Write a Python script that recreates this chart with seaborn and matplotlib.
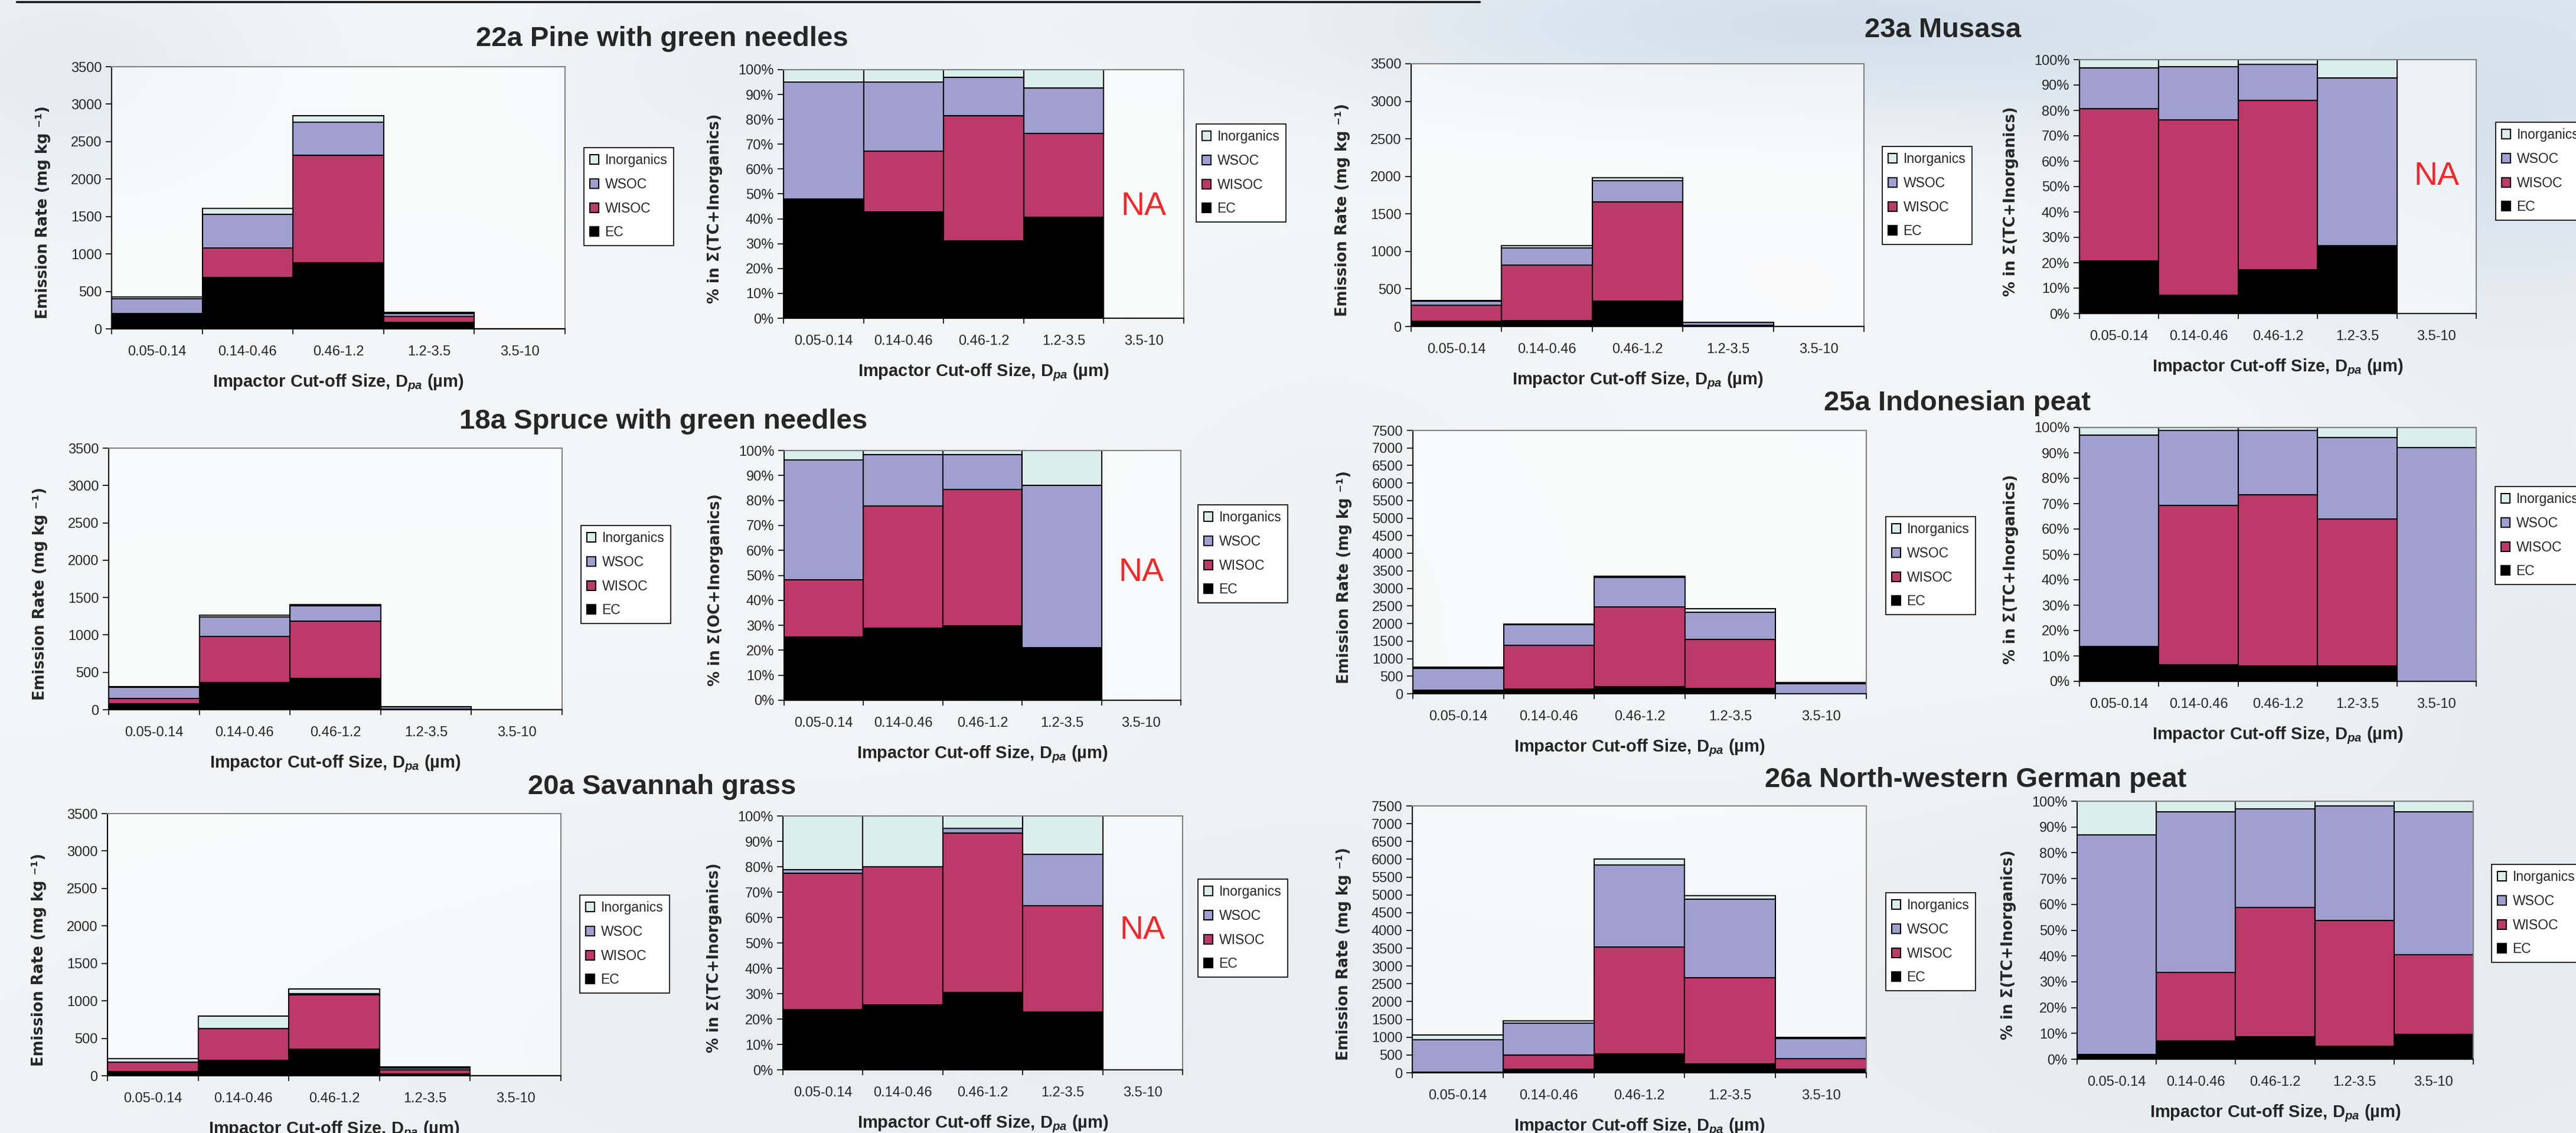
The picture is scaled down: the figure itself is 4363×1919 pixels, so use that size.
import numpy as np
import pandas as pd
import matplotlib
matplotlib.use("Agg")
import matplotlib.pyplot as plt
from matplotlib.patches import Patch
from matplotlib.lines import Line2D
from matplotlib.ticker import PercentFormatter
from matplotlib.transforms import blended_transform_factory
import seaborn as sns

sns.set_theme(style="ticks")
plt.rcParams["font.family"] = ["Liberation Sans", "DejaVu Sans"]
plt.rcParams["mathtext.fontset"] = "custom"
plt.rcParams["mathtext.rm"] = "Liberation Sans:bold"
plt.rcParams["mathtext.it"] = "Liberation Sans:italic:bold"
plt.rcParams["mathtext.bf"] = "Liberation Sans:bold"

W, H, DPI = 4363, 1919, 100

# ---------------------------------------------------------------- data
size_bins = ["0.05-0.14", "0.14-0.46", "0.46-1.2", "1.2-3.5", "3.5-10"]
components = ["Inorganics", "WSOC", "WISOC", "EC"]
colors = {"Inorganics": "#DCEEEC", "WSOC": "#A0A0D0",
          "WISOC": "#BB3A6A", "EC": "#000000"}

# emission rates, mg kg-1, per impactor size bin
ec_22a = [204, 686, 885, 89, 0]
wisoc_22a = [0, 394, 1432, 74, 0]
wsoc_22a = [200, 448, 441, 40, 0]
inorg_22a = [21, 79, 89, 16, 0]

ec_23a = [72, 78, 339, 15, 0]
wisoc_23a = [208, 742, 1323, 0, 0]
wsoc_23a = [56, 226, 283, 37, 0]
inorg_23a = [11, 29, 36, 4, 0]

ec_18a = [78, 364, 420, 9, 0]
wisoc_18a = [71, 618, 768, 0, 0]
wsoc_18a = [148, 261, 199, 28, 0]
inorg_18a = [12, 20, 22, 6, 0]

ec_25a = [103, 131, 204, 147, 0]
wisoc_25a = [0, 1246, 2261, 1398, 0]
wsoc_25a = [626, 589, 844, 776, 294]
inorg_25a = [22, 24, 40, 94, 25]

ec_20a = [55, 202, 351, 27, 0]
wisoc_20a = [124, 432, 728, 50, 0]
wsoc_20a = [3, 0, 20, 24, 0]
inorg_20a = [49, 159, 57, 18, 0]

ec_26a = [19, 104, 529, 249, 97]
wisoc_26a = [0, 388, 3001, 2427, 309]
wsoc_26a = [910, 908, 2304, 2203, 552]
inorg_26a = [139, 60, 180, 94, 42]

# ---------------------------------------------------------------- layout (pixels)
panels = [
    dict(title="22a Pine with green needles", title_xy=(1121, 78),
         series=(ec_22a, wisoc_22a, wsoc_22a, inorg_22a), ymax=3500,
         pct_label="% in Σ(TC+Inorganics)",
         abs_box=(189, 957, 113, 557), pct_box=(1327, 2005, 118, 539),
         abs_leg=(989, 250), pct_leg=(2026, 210), na_y=0.45),
    dict(title="23a Musasa", title_xy=(3291, 63),
         series=(ec_23a, wisoc_23a, wsoc_23a, inorg_23a), ymax=3500,
         pct_label="% in Σ(TC+Inorganics)",
         abs_box=(2390, 3157, 108, 553), pct_box=(3522, 4194, 101, 531),
         abs_leg=(3188, 248), pct_leg=(4227, 207), na_y=0.54),
    dict(title="18a Spruce with green needles", title_xy=(1124, 726),
         series=(ec_18a, wisoc_18a, wsoc_18a, inorg_18a), ymax=3500,
         pct_label="% in Σ(OC+Inorganics)",
         abs_box=(184, 952, 759, 1202), pct_box=(1328, 2000, 763, 1186),
         abs_leg=(984, 890), pct_leg=(2029, 855), na_y=0.51),
    dict(title="25a Indonesian peat", title_xy=(3315, 695),
         series=(ec_25a, wisoc_25a, wsoc_25a, inorg_25a), ymax=7500,
         pct_label="% in Σ(TC+Inorganics)",
         abs_box=(2393, 3161, 729, 1175), pct_box=(3522, 4194, 724, 1154),
         abs_leg=(3194, 875), pct_leg=(4226, 824), na_y=None),
    dict(title="20a Savannah grass", title_xy=(1121, 1345),
         series=(ec_20a, wisoc_20a, wsoc_20a, inorg_20a), ymax=3500,
         pct_label="% in Σ(TC+Inorganics)",
         abs_box=(182, 950, 1378, 1822), pct_box=(1326, 2003, 1382, 1812),
         abs_leg=(982, 1516), pct_leg=(2029, 1489), na_y=0.55),
    dict(title="26a North-western German peat", title_xy=(3346, 1333),
         series=(ec_26a, wisoc_26a, wsoc_26a, inorg_26a), ymax=7500,
         pct_label="% in Σ(TC+Inorganics)",
         abs_box=(2392, 3161, 1365, 1817), pct_box=(3518, 4189, 1357, 1794),
         abs_leg=(3194, 1512), pct_leg=(4220, 1464), na_y=None),
]

fig = plt.figure(figsize=(W / DPI, H / DPI), dpi=DPI)


# ---------------------------------------------------------------- cloudy backdrop
def sky(h, w):
    yy, xx = np.mgrid[0:h, 0:w]
    X = xx * (W / w)
    Y = yy * (H / h)
    img = np.ones((h, w, 3)) * np.array([0.958, 0.965, 0.970])
    shade = (Y / H) ** 2 * 0.10
    img = img * (1 - shade[..., None]) + np.array([0.86, 0.89, 0.91]) * shade[..., None]
    blobs = [
        (3150, 40, 650, 110, (0.80, 0.86, 0.91), 0.85),
        (4250, 200, 350, 260, (0.80, 0.86, 0.91), 0.75),
        (3900, 80, 400, 120, (0.84, 0.89, 0.93), 0.6),
        (120, 120, 260, 160, (0.86, 0.90, 0.93), 0.6),
        (1250, 120, 260, 160, (0.88, 0.91, 0.94), 0.45),
        (3900, 1700, 700, 300, (0.86, 0.89, 0.91), 0.55),
        (1700, 1750, 900, 260, (0.88, 0.90, 0.92), 0.45),
        (2250, 1000, 300, 350, (0.90, 0.92, 0.93), 0.35),
        (4300, 1100, 250, 300, (0.86, 0.89, 0.92), 0.45),
    ]
    for cx, cy, sx, sy, col, s in blobs:
        wgt = s * np.exp(-0.5 * (((X - cx) / sx) ** 2 + ((Y - cy) / sy) ** 2))
        img = img * (1 - wgt[..., None]) + np.array(col) * wgt[..., None]
    return np.clip(img, 0, 1)


bg = fig.add_axes([0, 0, 1, 1], zorder=-10)
bg.imshow(sky(480, 1090), extent=[0, W, H, 0], aspect="auto", interpolation="bilinear")
bg.set_xlim(0, W)
bg.set_ylim(H, 0)
bg.axis("off")

fig.add_artist(Line2D([28 / W, 2506 / W], [1 - 3 / H, 1 - 3 / H], color="#111111", lw=2.5))


def add_axes_px(box):
    l, r, t, b = box
    ax = fig.add_axes([l / W, 1 - b / H, (r - l) / W, (b - t) / H])
    return ax, (r - l), (b - t)


def long_frame(series):
    ec, wisoc, wsoc, inorg = series
    by_comp = {"Inorganics": inorg, "WSOC": wsoc, "WISOC": wisoc, "EC": ec}
    rows = [(i, comp, v) for comp in components for i, v in enumerate(by_comp[comp])]
    return pd.DataFrame(rows, columns=["bin", "component", "rate"])


def style(ax, wpx, hpx, ylabel, yfamily):
    ax.set_facecolor((1, 1, 1, 0.55))
    ax.set_xlim(-0.5, 4.5)
    ax.set_xticks(np.arange(-0.5, 5.0, 1.0))
    ax.set_xticklabels([])
    ax.set_xticks(range(5), minor=True)
    ax.set_xticklabels(size_bins, minor=True)
    ax.tick_params(axis="x", which="major", length=6.5, width=1.2, direction="out",
                   bottom=True, color="black")
    ax.tick_params(axis="x", which="minor", length=0, pad=20, labelsize=17, bottom=True)
    ax.tick_params(axis="y", which="major", length=7, width=1.2, direction="out",
                   left=True, pad=5, labelsize=17, color="black")
    for s in ("left", "bottom"):
        ax.spines[s].set_color("black")
        ax.spines[s].set_linewidth(1.5)
    for s in ("top", "right"):
        ax.spines[s].set_visible(True)
        ax.spines[s].set_color("#808080")
        ax.spines[s].set_linewidth(1.5)
    ax.set_xlabel("Impactor Cut-off Size, D$_{pa}$ (µm)", fontsize=21, fontweight="bold")
    ax.xaxis.label.set_va("center")
    ax.xaxis.set_label_coords(0.5, -92 / hpx)
    ax.set_ylabel(ylabel, fontsize=18.5, fontweight="bold", family=yfamily)
    ax.yaxis.label.set_va("center")
    ax.yaxis.set_label_coords(-116 / wpx, 0.5 - 25 / hpx)


def add_legend(ax, xy):
    handles = [Patch(facecolor=colors[c], edgecolor="black", linewidth=1.5, label=c)
               for c in components]
    leg = ax.legend(handles=handles, loc="upper left",
                    bbox_to_anchor=(xy[0] / W, 1 - xy[1] / H),
                    bbox_transform=fig.transFigure, frameon=True, fancybox=False,
                    framealpha=1, edgecolor="black", facecolor="white",
                    fontsize=16.5, borderpad=0.45, labelspacing=0.77,
                    handlelength=0.65, handleheight=0.7, handletextpad=0.45,
                    borderaxespad=0)
    leg.get_frame().set_linewidth(1.2)


for p in panels:
    df = long_frame(p["series"])

    # absolute emission rates
    ax, wpx, hpx = add_axes_px(p["abs_box"])
    sns.histplot(data=df, x="bin", weights="rate", hue="component", hue_order=components,
                 multiple="stack", discrete=True, shrink=1, palette=colors,
                 edgecolor="black", linewidth=1.5, alpha=1, legend=False, ax=ax)
    ax.set_ylim(0, p["ymax"])
    ax.set_yticks(np.arange(0, p["ymax"] + 1, 500))
    style(ax, wpx, hpx, "Emission Rate (mg kg ⁻¹)", ["DejaVu Sans"])
    add_legend(ax, p["abs_leg"])

    # mass fractions of the summed components
    totals = df.groupby("bin")["rate"].sum()
    valid = totals[totals > 0].index
    ax2, wpx2, hpx2 = add_axes_px(p["pct_box"])
    sns.histplot(data=df[df["bin"].isin(valid)], x="bin", weights="rate", hue="component",
                 hue_order=components, multiple="fill", discrete=True, shrink=1,
                 palette=colors, edgecolor="black", linewidth=1.5, alpha=1,
                 legend=False, ax=ax2)
    ax2.set_ylim(0, 1)
    ax2.set_yticks(np.arange(0, 1.01, 0.1))
    ax2.yaxis.set_major_formatter(PercentFormatter(1.0, decimals=0))
    style(ax2, wpx2, hpx2, p["pct_label"], ["DejaVu Sans"])
    add_legend(ax2, p["pct_leg"])
    if p["na_y"] is not None:
        tr = blended_transform_factory(ax2.transData, ax2.transAxes)
        ax2.text(4, p["na_y"], "NA", transform=tr, ha="center", va="center",
                 color="#EE2A2A", fontsize=40)

    fig.text(p["title_xy"][0] / W, 1 - p["title_xy"][1] / H, p["title"],
             ha="center", va="baseline", fontsize=34, fontweight="bold")

fig.savefig("out.png", dpi=DPI)
